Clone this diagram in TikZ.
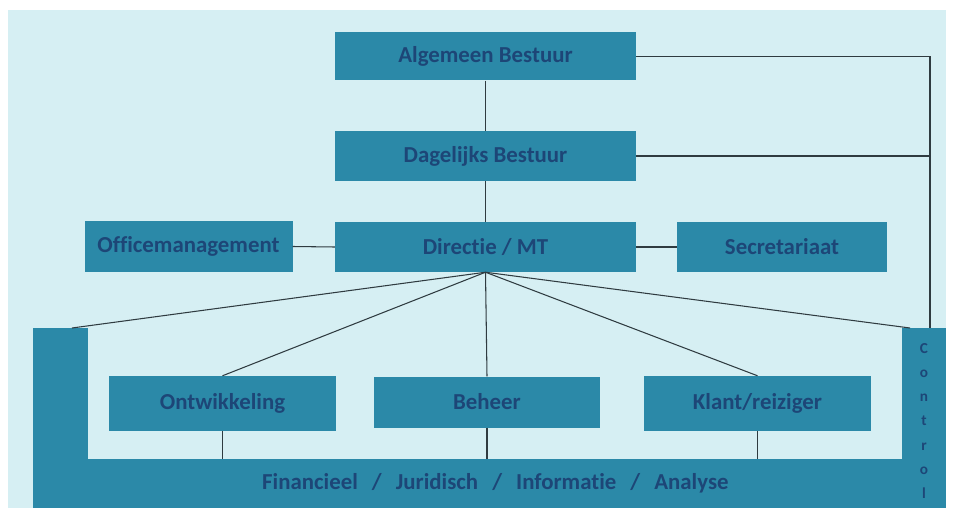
\documentclass[tikz,border=0pt]{standalone}
\usepackage{fontspec}
\setmainfont[Ligatures=NoCommon]{Carlito}
\definecolor{bgc}{HTML}{D6EFF3}
\definecolor{boxc}{HTML}{2B89A8}
\definecolor{txtc}{HTML}{1D4677}
\definecolor{linec}{HTML}{2F3B40}
\begin{document}
\begin{tikzpicture}[x=0.03cm,y=-0.03cm,
  orgbox/.style={rectangle, fill=boxc, inner sep=0pt, text=txtc,
    font=\fontsize{19.5}{22}\selectfont\bfseries},
  conn/.style={draw=linec, line width=0.9pt}]
\useasboundingbox (0,0) rectangle (953,508);
\fill[white] (0,0) rectangle (953,508);
\fill[bgc] (8,10) rectangle (946,508);
\coordinate (lt) at (72,328);
\coordinate (rt) at (910,328);
\coordinate (ctop) at (930,328);
\coordinate (abr) at (930,56.5);
\coordinate (dbr) at (930,156);
\node[orgbox, minimum width=301*0.03cm, minimum height=48*0.03cm] (AB) at (485.5,56.5) {Algemeen Bestuur};
\node[orgbox, minimum width=301*0.03cm, minimum height=50*0.03cm] (DB) at (485.5,156) {Dagelijks Bestuur};
\node[orgbox, minimum width=301*0.03cm, minimum height=50*0.03cm] (DM) at (485.5,247) {Directie / MT};
\node[orgbox, minimum width=208*0.03cm, minimum height=51*0.03cm] (OM) at (188.5,246.5) {Officemanagement};
\node[orgbox, minimum width=210*0.03cm, minimum height=50*0.03cm] (SE) at (782,247) {Secretariaat};
\node[orgbox, minimum width=227*0.03cm, minimum height=55*0.03cm] (ON) at (222.5,403.5) {Ontwikkeling};
\node[orgbox, minimum width=226*0.03cm, minimum height=51*0.03cm] (BE) at (487,402) {Beheer};
\node[orgbox, minimum width=227*0.03cm, minimum height=55*0.03cm] (KL) at (757.5,403.5) {Klant/reiziger};
\node[orgbox, minimum width=55*0.03cm, minimum height=180*0.03cm] (LB) at (60.5,418) {};
\node[orgbox, minimum width=913*0.03cm, minimum height=49*0.03cm] (FIN) at (489.5,483.5)
  {\hspace{10pt}Financieel\hspace{12pt}/\hspace{12pt}Juridisch\hspace{12pt}/\hspace{12pt}Informatie\hspace{12pt}/\hspace{12pt}Analyse};
\node[orgbox, minimum width=44*0.03cm, minimum height=180*0.03cm] (CO) at (924,418) {};
\node[text=txtc, font=\fontsize{13}{20.7}\selectfont\bfseries, align=center, inner sep=0pt] (COt) at (924,421)
  {C\\o\\n\\t\\r\\o\\l};
\draw[conn] (AB.south) -- (DB.north);
\draw[conn] (DB.south) -- (DM.north);
\draw[conn] (OM.east) -- (DM.west);
\draw[conn] (DM.east) -- (SE.west);
\draw[conn] (AB.east) -- (abr) -- (ctop);
\draw[conn] (DB.east) -- (dbr);
\draw[conn] (DM.south) -- (lt);
\draw[conn] (DM.south) -- (ON.north);
\draw[conn] (DM.south) -- (BE.north);
\draw[conn] (DM.south) -- (KL.north);
\draw[conn] (DM.south) -- (rt);
\draw[conn] (ON.south) -- (ON.south |- FIN.north);
\draw[conn] (BE.south) -- (BE.south |- FIN.north);
\draw[conn] (KL.south) -- (KL.south |- FIN.north);
\end{tikzpicture}
\end{document}
